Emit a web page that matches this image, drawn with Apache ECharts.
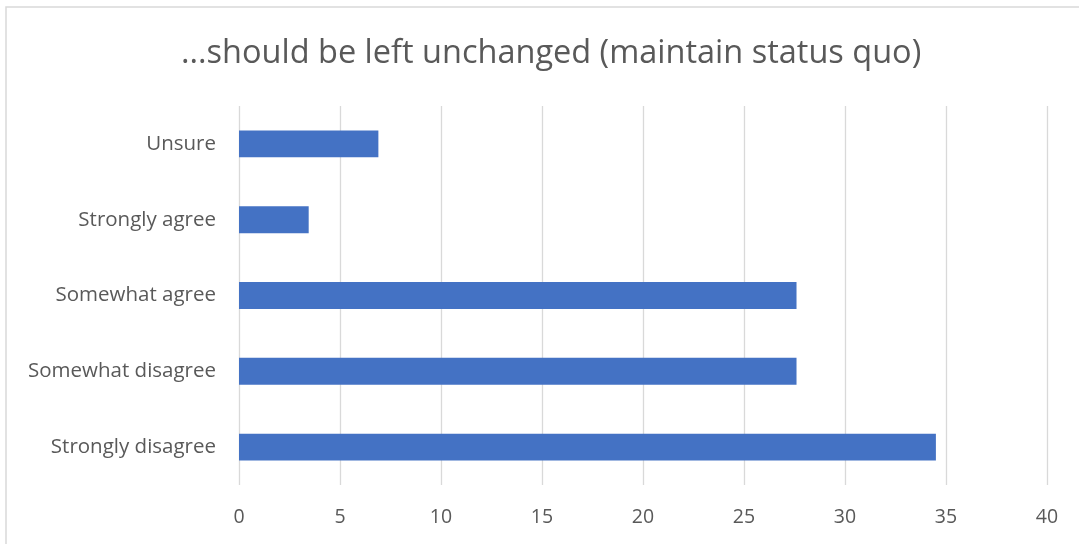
<!DOCTYPE html>
<html>
<head>
<meta charset="utf-8">
<script src="https://cdn.jsdelivr.net/npm/echarts@6/dist/echarts.min.js"></script>
<style>
  html, body { margin: 0; padding: 0; background: #fff; }
  #chart { width: 1079px; height: 544px; }
</style>
</head>
<body>
<div id="chart"></div>
<script>
// Survey responses, bottom-to-top order on the category axis
const categories = ['Strongly disagree', 'Somewhat disagree', 'Somewhat agree', 'Strongly agree', 'Unsure'];
const shares = [34.5, 27.6, 27.6, 3.45, 6.9];
const xTicks = { min: 0, max: 40, step: 5 };
const chartTitle = '...should be left unchanged (maintain status quo)';

const FONT = '"Open Sans", "Liberation Sans", sans-serif';
const TEXT = '#595959';

const chart = echarts.init(document.getElementById('chart'), null, { renderer: 'canvas' });
chart.setOption({
  animation: false,
  backgroundColor: '#ffffff',
  title: {
    text: chartTitle,
    left: 176,
    top: 32,
    textStyle: { fontFamily: FONT, fontSize: 32.5, fontWeight: 'normal', color: TEXT }
  },
  graphic: [{
    type: 'rect',
    shape: { x: 6, y: 7, width: 1200, height: 700 },
    style: { fill: 'none', stroke: '#d9d9d9', lineWidth: 1.5 },
    silent: true
  }],
  grid: { left: 239, right: 32, top: 106, bottom: 59, containLabel: false },
  xAxis: {
    type: 'value',
    min: xTicks.min,
    max: xTicks.max,
    interval: xTicks.step,
    axisLine: { show: false },
    axisTick: { show: false },
    axisLabel: { fontFamily: FONT, fontSize: 19.5, color: TEXT, margin: 22 },
    splitLine: { show: true, lineStyle: { color: '#d9d9d9', width: 1.3 } }
  },
  yAxis: {
    type: 'category',
    data: categories,
    axisLine: { show: false },
    axisTick: { show: false },
    axisLabel: { fontFamily: FONT, fontSize: 20.5, color: TEXT, margin: 23 }
  },
  series: [{
    type: 'bar',
    data: shares,
    barWidth: '35.5%',
    itemStyle: { color: '#4472c4' }
  }]
});
</script>
</body>
</html>
